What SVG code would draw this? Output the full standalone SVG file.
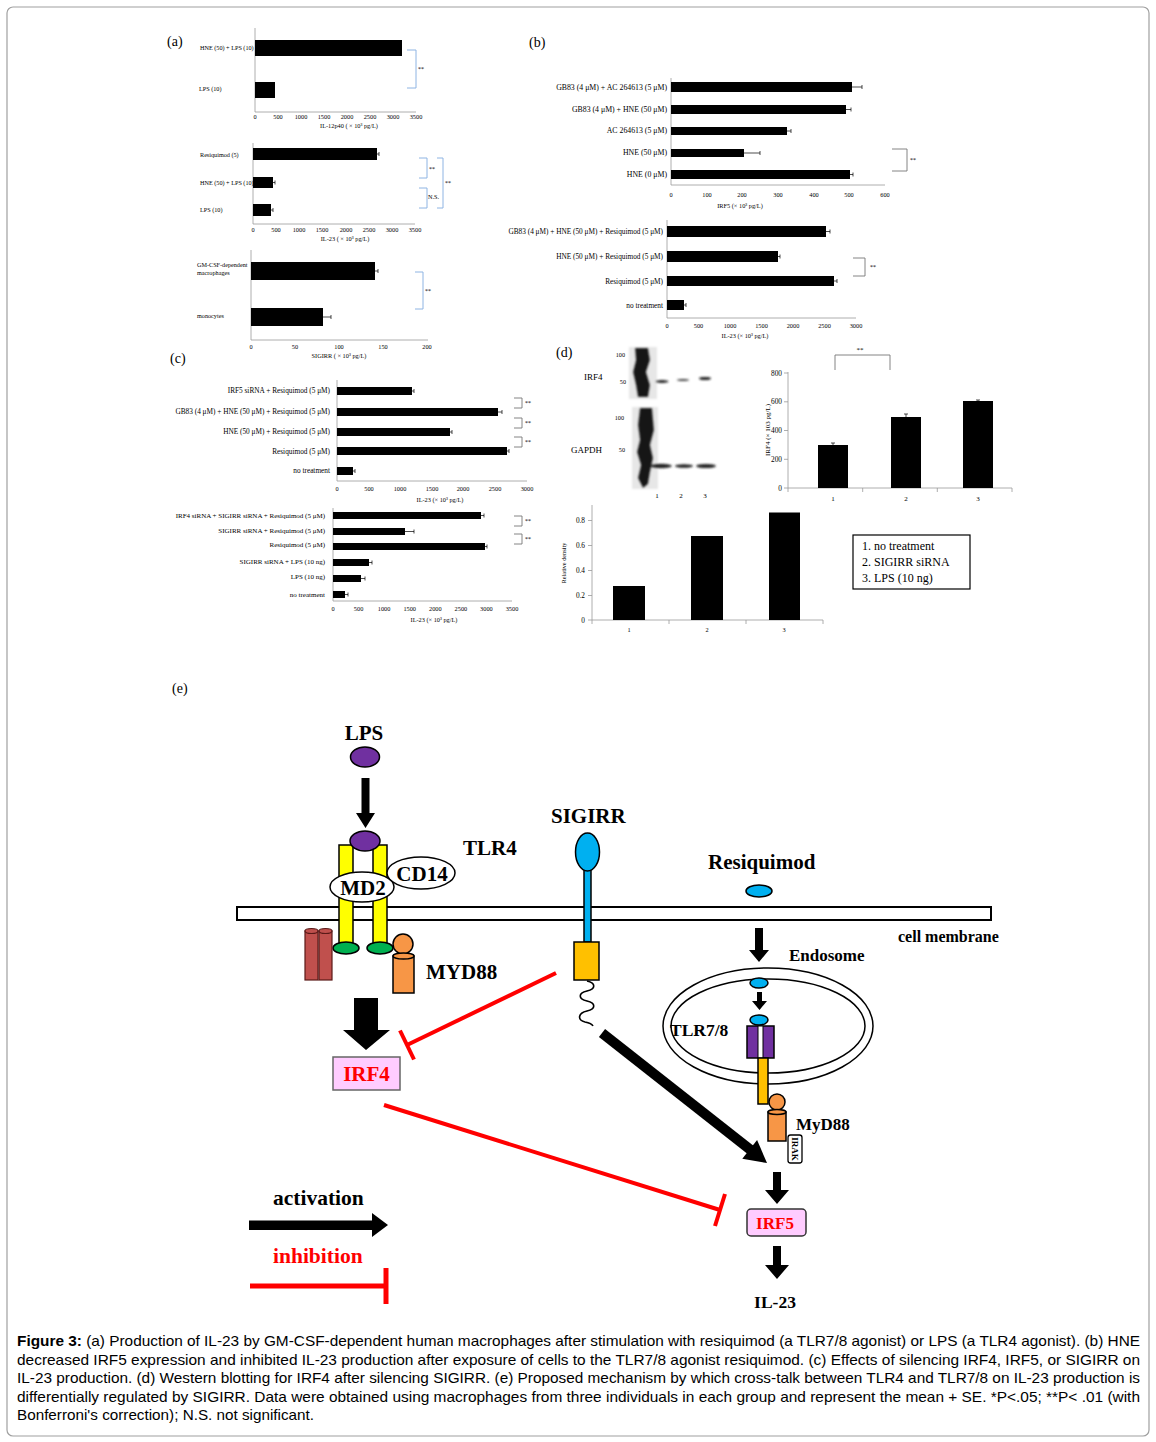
<svg xmlns="http://www.w3.org/2000/svg" width="1156" height="1442" viewBox="0 0 1156 1442">
<defs>
<style>
text { font-family: "Liberation Serif", "Times New Roman", serif; fill: #000; }
.b { font-weight: bold; }
.ax { stroke: #999; stroke-width: 0.8; fill: none; }
.bar { fill: #000; }
.err { stroke: #000; stroke-width: 0.7; fill: none; }
.br { stroke: #777; stroke-width: 0.9; fill: none; }
.brb { stroke: #8eb4e3; stroke-width: 1; fill: none; }
.l6 { font-size: 6.2px; }
.l65 { font-size: 7px; }
.l7 { font-size: 7.3px; }
.l75 { font-size: 7.8px; }
.tk { font-size: 6.3px; text-anchor: middle; }
.tk7 { font-size: 7px; text-anchor: middle; }
.end { text-anchor: end; }
.mid { text-anchor: middle; }
.pl { font-size: 14px; }
.big { font-size: 21px; font-weight: bold; }
.ol { stroke: #000; stroke-width: 1.5; }
.red { stroke: #ff0000; stroke-width: 4; fill: none; }
.cap { font-family: "Liberation Sans", Arial, sans-serif; font-size: 15px; }
</style>
<filter id="blur" x="-20%" y="-20%" width="140%" height="140%"><feGaussianBlur stdDeviation="1.1"/></filter>
</defs>
<rect x="0" y="0" width="1156" height="1442" fill="#fff"/>
<rect x="7" y="7" width="1142" height="1429" rx="6" fill="#fff" stroke="#a0a0a0" stroke-width="1.2"/>

<!-- Panel (a) -->
<g id="panel-a">
<text class="pl" x="167" y="46">(a)</text>
<g id="chart-a1">
<line class="ax" x1="255" y1="28" x2="255" y2="112"/>
<line class="ax" x1="255" y1="112" x2="416" y2="112"/>
<rect class="bar" x="255" y="40" width="147" height="16"/>
<rect class="bar" x="255" y="82" width="20" height="16"/>
<text class="l6" x="200" y="50">HNE (50) + LPS (10)</text>
<text class="l6" x="199" y="91">LPS (10)</text>
<text class="tk" x="255" y="119">0</text><text class="tk" x="278" y="119">500</text><text class="tk" x="301" y="119">1000</text><text class="tk" x="324" y="119">1500</text><text class="tk" x="347" y="119">2000</text><text class="tk" x="370" y="119">2500</text><text class="tk" x="393" y="119">3000</text><text class="tk" x="416" y="119">3500</text>
<text class="tk" x="349" y="128">IL-12p40 ( × 10³ pg/L)</text>
<path class="brb" d="M407,50 H416 V88 H407"/>
<text class="l6" x="418" y="71">**</text>
</g>
<g id="chart-a2">
<line class="ax" x1="253" y1="143" x2="253" y2="224"/>
<line class="ax" x1="253" y1="224" x2="415" y2="224"/>
<rect class="bar" x="253" y="148" width="124" height="12"/>
<path class="err" d="M377,154 H379 M379,152 V156"/>
<rect class="bar" x="253" y="177" width="20" height="11"/>
<path class="err" d="M273,182.5 H275 M275,180.5 V184.5"/>
<rect class="bar" x="253" y="204" width="18" height="12"/>
<path class="err" d="M271,210 H273 M273,208 V212"/>
<text class="l6" x="200" y="157">Resiquimod (5)</text>
<text class="l6" x="200" y="185">HNE (50) + LPS (10)</text>
<text class="l6" x="200" y="212">LPS (10)</text>
<text class="tk" x="253" y="232">0</text><text class="tk" x="276" y="232">500</text><text class="tk" x="299" y="232">1000</text><text class="tk" x="322" y="232">1500</text><text class="tk" x="346" y="232">2000</text><text class="tk" x="369" y="232">2500</text><text class="tk" x="392" y="232">3000</text><text class="tk" x="415" y="232">3500</text>
<text class="tk" x="345" y="241">IL-23 ( × 10³ pg/L)</text>
<path class="brb" d="M419,158 H427 V178 H419"/>
<text class="l6" x="429" y="171">**</text>
<path class="brb" d="M419,188 H427 V208 H419"/>
<text class="l6" x="428" y="199">N.S.</text>
<path class="brb" d="M437,158 H443 V208 H437"/>
<text class="l6" x="445" y="185">**</text>
</g>
<g id="chart-a3">
<line class="ax" x1="251" y1="250" x2="251" y2="340"/>
<line class="ax" x1="251" y1="340" x2="428" y2="340"/>
<rect class="bar" x="251" y="262" width="124" height="18"/>
<path class="err" d="M375,271 H378 M378,269 V273"/>
<rect class="bar" x="251" y="308" width="72" height="18"/>
<path class="err" d="M323,317 H331 M331,315 V319"/>
<text class="l6" x="197" y="267">GM-CSF-dependent</text>
<text class="l6" x="197" y="275">macrophages</text>
<text class="l6" x="197" y="318">monocytes</text>
<text class="tk" x="251" y="349">0</text><text class="tk" x="295" y="349">50</text><text class="tk" x="339" y="349">100</text><text class="tk" x="383" y="349">150</text><text class="tk" x="427" y="349">200</text>
<text class="tk" x="339" y="358">SIGIRR ( × 10³ pg/L)</text>
<path class="brb" d="M415,272 H423 V309 H415"/>
<text class="l6" x="425" y="293">**</text>
</g>
</g>

<!-- Panel (b) -->
<g id="panel-b">
<text class="pl" x="529" y="47">(b)</text>
<g id="chart-b1">
<line class="ax" x1="671" y1="78" x2="671" y2="185"/>
<line class="ax" x1="671" y1="185" x2="885" y2="185"/>
<rect class="bar" x="671" y="82" width="181" height="10"/>
<path class="err" d="M852,87 H862 M862,85 V89"/>
<rect class="bar" x="671" y="105" width="175" height="9"/>
<path class="err" d="M846,109.5 H851 M851,107.5 V111.5"/>
<rect class="bar" x="671" y="127" width="116" height="8"/>
<path class="err" d="M787,131 H791 M791,129 V133"/>
<rect class="bar" x="671" y="149" width="73" height="8"/>
<path class="err" d="M744,153 H760 M760,151 V155"/>
<rect class="bar" x="671" y="170" width="179" height="9"/>
<path class="err" d="M850,174.5 H853 M853,172.5 V176.5"/>
<text class="l75 end" x="667" y="90">GB83 (4 μM) +  AC 264613 (5 μM)</text>
<text class="l75 end" x="667" y="112">GB83 (4 μM) +  HNE (50 μM)</text>
<text class="l75 end" x="667" y="133">AC 264613 (5 μM)</text>
<text class="l75 end" x="667" y="155">HNE (50 μM)</text>
<text class="l75 end" x="667" y="177">HNE (0 μM)</text>
<text class="tk" x="671" y="197">0</text><text class="tk" x="707" y="197">100</text><text class="tk" x="742" y="197">200</text><text class="tk" x="778" y="197">300</text><text class="tk" x="814" y="197">400</text><text class="tk" x="849" y="197">500</text><text class="tk" x="885" y="197">600</text>
<text class="tk" x="740" y="208">IRF5 (× 10³ pg/L)</text>
<path class="br" d="M892,149 H907 V171 H892"/>
<text class="l6" x="910" y="162">**</text>
</g>
<g id="chart-b2">
<line class="ax" x1="667" y1="220" x2="667" y2="318"/>
<line class="ax" x1="667" y1="318" x2="856" y2="318"/>
<rect class="bar" x="667" y="226" width="159" height="11"/>
<path class="err" d="M826,231.5 H830 M830,229.5 V233.5"/>
<rect class="bar" x="667" y="251" width="111" height="11"/>
<path class="err" d="M778,256.5 H780 M780,254.5 V258.5"/>
<rect class="bar" x="667" y="276" width="167" height="10"/>
<path class="err" d="M834,281 H837 M837,279 V283"/>
<rect class="bar" x="667" y="300" width="17" height="10"/>
<path class="err" d="M684,305 H686 M686,303 V307"/>
<text class="l7 end" x="663" y="234">GB83  (4 μM)  + HNE (50 μM) + Resiquimod  (5 μM)</text>
<text class="l7 end" x="663" y="259">HNE (50 μM) + Resiquimod  (5 μM)</text>
<text class="l7 end" x="663" y="284">Resiquimod  (5 μM)</text>
<text class="l7 end" x="663" y="308">no treatment</text>
<text class="tk" x="667" y="328">0</text><text class="tk" x="698.5" y="328">500</text><text class="tk" x="730" y="328">1000</text><text class="tk" x="761.5" y="328">1500</text><text class="tk" x="793" y="328">2000</text><text class="tk" x="824.5" y="328">2500</text><text class="tk" x="856" y="328">3000</text>
<text class="tk" x="745" y="338">IL-23 (× 10³ pg/L)</text>
<path class="br" d="M853,258 H865 V276 H853"/>
<text class="l6" x="870" y="269">**</text>
</g>
</g>

<!-- Panel (c) -->
<g id="panel-c">
<text class="pl" x="170" y="363">(c)</text>
<g id="chart-c1">
<line class="ax" x1="337" y1="380" x2="337" y2="481"/>
<line class="ax" x1="337" y1="481" x2="527" y2="481"/>
<rect class="bar" x="337" y="387" width="75" height="8"/>
<path class="err" d="M412,391 H414 M414,389 V393"/>
<rect class="bar" x="337" y="408" width="161" height="8"/>
<path class="err" d="M498,412 H502 M502,410 V414"/>
<rect class="bar" x="337" y="428" width="113" height="8"/>
<path class="err" d="M450,432 H452 M452,430 V434"/>
<rect class="bar" x="337" y="447" width="170" height="8"/>
<path class="err" d="M507,451 H509 M509,449 V453"/>
<rect class="bar" x="337" y="467" width="16" height="8"/>
<path class="err" d="M353,471 H355 M355,469 V473"/>
<text class="l7 end" x="330" y="393">IRF5 siRNA + Resiquimod  (5 μM)</text>
<text class="l7 end" x="330" y="414">GB83  (4 μM)  + HNE (50 μM) + Resiquimod  (5 μM)</text>
<text class="l7 end" x="330" y="434">HNE (50 μM) + Resiquimod  (5 μM)</text>
<text class="l7 end" x="330" y="454">Resiquimod  (5 μM)</text>
<text class="l7 end" x="330" y="473">no treatment</text>
<text class="tk" x="337" y="491">0</text><text class="tk" x="369" y="491">500</text><text class="tk" x="400" y="491">1000</text><text class="tk" x="432" y="491">1500</text><text class="tk" x="463" y="491">2000</text><text class="tk" x="495" y="491">2500</text><text class="tk" x="527" y="491">3000</text>
<text class="tk" x="440" y="502">IL-23 (× 10³ pg/L)</text>
<path class="br" d="M514,398 H522 V408 H514"/>
<text class="l6" x="525" y="405">**</text>
<path class="br" d="M514,418 H522 V428 H514"/>
<text class="l6" x="525" y="425">**</text>
<path class="br" d="M514,437 H522 V447 H514"/>
<text class="l6" x="525" y="444">**</text>
</g>
<g id="chart-c2">
<line class="ax" x1="333" y1="508" x2="333" y2="601"/>
<line class="ax" x1="333" y1="601" x2="512" y2="601"/>
<rect class="bar" x="333" y="512" width="148" height="7"/>
<path class="err" d="M481,515.5 H484 M484,513.5 V517.5"/>
<rect class="bar" x="333" y="528" width="72" height="7"/>
<path class="err" d="M405,531.5 H414 M414,529.5 V533.5"/>
<rect class="bar" x="333" y="543" width="152" height="7"/>
<path class="err" d="M485,546.5 H487 M487,544.5 V548.5"/>
<rect class="bar" x="333" y="559" width="36" height="7"/>
<path class="err" d="M369,562.5 H372 M372,560.5 V564.5"/>
<rect class="bar" x="333" y="575" width="28" height="7"/>
<path class="err" d="M361,578.5 H365 M365,576.5 V580.5"/>
<rect class="bar" x="333" y="591" width="12" height="7"/>
<path class="err" d="M345,594.5 H348 M348,592.5 V596.5"/>
<text class="l65 end" x="325" y="518">IRF4 siRNA + SIGIRR siRNA + Resiquimod  (5 μM)</text>
<text class="l65 end" x="325" y="533">SIGIRR siRNA + Resiquimod  (5 μM)</text>
<text class="l65 end" x="325" y="547">Resiquimod  (5 μM)</text>
<text class="l65 end" x="325" y="564">SIGIRR siRNA + LPS (10 ng)</text>
<text class="l65 end" x="325" y="579">LPS (10 ng)</text>
<text class="l65 end" x="325" y="597">no treatment</text>
<text class="tk" x="333" y="611">0</text><text class="tk" x="358.6" y="611">500</text><text class="tk" x="384.1" y="611">1000</text><text class="tk" x="409.7" y="611">1500</text><text class="tk" x="435.3" y="611">2000</text><text class="tk" x="460.9" y="611">2500</text><text class="tk" x="486.4" y="611">3000</text><text class="tk" x="512" y="611">3500</text>
<text class="tk" x="434" y="622">IL-23 (× 10³ pg/L)</text>
<path class="br" d="M514,516 H522 V526 H514"/>
<text class="l6" x="525" y="523">**</text>
<path class="br" d="M514,534 H522 V544 H514"/>
<text class="l6" x="525" y="541">**</text>
</g>
</g>

<!-- Panel (d) -->
<g id="panel-d">
<text class="pl" x="556" y="357">(d)</text>
<g id="western-blot">
<g filter="url(#blur)">
<rect x="629" y="347" width="28" height="52" fill="#888" opacity="0.2"/>
<path d="M635,348 L648,348 L650,360 L646,372 L650,385 L648,397 L638,397 L636,385 L633,372 L636,360 Z" fill="#151515"/>
<ellipse cx="662" cy="381.5" rx="6.5" ry="1.5" fill="#222"/>
<ellipse cx="683" cy="380" rx="6" ry="1.1" fill="#444"/>
<ellipse cx="705" cy="378.5" rx="6" ry="1.6" fill="#222"/>
<rect x="632" y="407" width="26" height="82" fill="#888" opacity="0.2"/>
<path d="M640,408 L652,408 L654,430 L650,445 L653,458 L650,472 L648,484 L643,488 L638,478 L641,465 L637,452 L640,440 L638,425 Z" fill="#151515"/>
<ellipse cx="661" cy="466" rx="11" ry="2.2" fill="#222"/>
<ellipse cx="684" cy="466" rx="9" ry="1.8" fill="#222"/>
<ellipse cx="706" cy="466" rx="10" ry="2" fill="#222"/>
</g>
<text class="l6 end" x="625" y="357">100</text>
<text class="l6 end" x="626" y="384">50</text>
<text class="l6 end" x="624" y="420">100</text>
<text class="l6 end" x="625" y="452">50</text>
<text x="584" y="380" font-size="9">IRF4</text>
<text x="571" y="453" font-size="9">GAPDH</text>
<text class="tk7" x="657" y="498">1</text>
<text class="tk7" x="681" y="498">2</text>
<text class="tk7" x="705" y="498">3</text>
</g>
<g id="chart-d1">
<line class="ax" x1="788" y1="372" x2="788" y2="488"/>
<line class="ax" x1="788" y1="488" x2="1012" y2="488"/>
<path class="ax" d="M784,373 H788 M784,401.8 H788 M784,430.5 H788 M784,459.3 H788 M784,488 H788 M862.7,488 V492 M937.3,488 V492 M1012,488 V492 M788,488 V492"/>
<rect class="bar" x="818" y="445" width="30" height="43"/>
<path class="err" d="M833,445 V443 M831,443 H835"/>
<rect class="bar" x="891" y="417" width="30" height="71"/>
<path class="err" d="M906,417 V414 M904,414 H908"/>
<rect class="bar" x="963" y="401" width="30" height="87"/>
<path class="err" d="M978,401 V400 M976,400 H980"/>
<text class="l7 end" x="782" y="375.5">800</text>
<text class="l7 end" x="782" y="404.3">600</text>
<text class="l7 end" x="782" y="433">400</text>
<text class="l7 end" x="782" y="461.8">200</text>
<text class="l7 end" x="782" y="490.5">0</text>
<text class="tk7" x="833" y="501">1</text>
<text class="tk7" x="906" y="501">2</text>
<text class="tk7" x="978" y="501">3</text>
<text class="tk7" transform="translate(770,430) rotate(-90)">IRF4 (× 103 pg/L)</text>
<path class="br" d="M835,370 V355 H890 V370"/>
<text class="tk7" x="860" y="352">**</text>
</g>
<g id="chart-d2">
<line class="ax" x1="592" y1="505" x2="592" y2="620"/>
<line class="ax" x1="592" y1="620" x2="823" y2="620"/>
<path class="ax" d="M588,520.5 H592 M588,545.5 H592 M588,570.5 H592 M588,595.5 H592 M588,620 H592 M592,620 V624 M669,620 V624 M746,620 V624 M823,620 V624"/>
<rect class="bar" x="613" y="586" width="32" height="34"/>
<rect class="bar" x="691" y="536" width="32" height="84"/>
<rect class="bar" x="769" y="512.5" width="31" height="107.5"/>
<text class="l7 end" x="585" y="523">0.8</text>
<text class="l7 end" x="585" y="548">0.6</text>
<text class="l7 end" x="585" y="573">0.4</text>
<text class="l7 end" x="585" y="598">0.2</text>
<text class="l7 end" x="585" y="622.5">0</text>
<text class="tk" x="629" y="632">1</text>
<text class="tk" x="707" y="632">2</text>
<text class="tk" x="784" y="632">3</text>
<text class="tk" transform="translate(566,563) rotate(-90)">Relative  density</text>
</g>
<g id="legend-d">
<rect x="853" y="535" width="117" height="54" fill="#fff" stroke="#000" stroke-width="1.2"/>
<text x="862" y="550" font-size="12">1. no treatment</text>
<text x="862" y="566" font-size="12">2. SIGIRR  siRNA</text>
<text x="862" y="582" font-size="12">3. LPS (10 ng)</text>
</g>
</g>

<!-- Panel (e) -->
<g id="panel-e">
<text class="pl" x="172" y="693">(e)</text>
<g id="cell-membrane">
<rect x="237" y="907" width="754" height="13" fill="#fff" stroke="#000" stroke-width="2"/>
<text class="b" x="898" y="942" font-size="16px">cell membrane</text>
</g>
<g id="lps">
<text class="big mid" x="364" y="740">LPS</text>
<ellipse cx="365" cy="757" rx="14.5" ry="10" fill="#7030a0" class="ol"/>
</g>
<g id="tlr4">
<rect x="339" y="845" width="14" height="98" fill="#ffff00" class="ol"/>
<rect x="373" y="845" width="14" height="98" fill="#ffff00" class="ol"/>
<ellipse cx="365" cy="841" rx="15" ry="10" fill="#7030a0" class="ol"/>
<ellipse cx="346" cy="948" rx="13" ry="6" fill="#00b050" class="ol"/>
<ellipse cx="380" cy="948" rx="13" ry="6" fill="#00b050" class="ol"/>
<text class="big" x="463" y="855">TLR4</text>
</g>
<g id="cd14">
<ellipse cx="421" cy="873" rx="34" ry="16" fill="#fff" class="ol"/>
<text class="big mid" x="422" y="881">CD14</text>
</g>
<g id="md2">
<ellipse cx="362" cy="887" rx="32" ry="15" fill="#fff" class="ol"/>
<text class="big mid" x="363" y="895">MD2</text>
</g>
<g id="tlr4-adaptor">
<rect x="305" y="931" width="13" height="49" fill="#c0504d" stroke="#5a1a18" stroke-width="1.2"/>
<ellipse cx="311.5" cy="931" rx="6.5" ry="2.5" fill="#c0504d" stroke="#5a1a18" stroke-width="1.2"/>
<rect x="319" y="931" width="13" height="49" fill="#c0504d" stroke="#5a1a18" stroke-width="1.2"/>
<ellipse cx="325.5" cy="931" rx="6.5" ry="2.5" fill="#c0504d" stroke="#5a1a18" stroke-width="1.2"/>
</g>
<g id="myd88-tlr4">
<circle cx="403" cy="944" r="10" fill="#f79646" class="ol"/>
<rect x="393" y="956" width="21" height="37" fill="#f79646" class="ol"/>
<ellipse cx="403.5" cy="956" rx="10.5" ry="3" fill="#f79646" class="ol"/>
<text class="big" x="426" y="979">MYD88</text>
</g>
<g id="sigirr">
<text class="big" x="551" y="823">SIGIRR</text>
<rect x="584" y="868" width="7" height="74" fill="#00b0f0" class="ol"/>
<ellipse cx="587.5" cy="852" rx="12" ry="19" fill="#00b0f0" class="ol"/>
<rect x="574" y="942" width="25" height="38" fill="#ffc000" class="ol"/>
<path d="M587,981 c9,2 9,8 0,10 c-9,2 -9,8 0,10 c9,2 9,8 0,10 c-9,2 -10,9 -2,11 c5,1 7,2 8,4" fill="none" stroke="#000" stroke-width="1.6"/>
</g>
<g id="resiquimod">
<text class="big" x="708" y="869">Resiquimod</text>
<ellipse cx="759" cy="891" rx="13" ry="6" fill="#00b0f0" class="ol"/>
</g>
<g id="endosome">
<ellipse cx="768" cy="1026" rx="105" ry="58" fill="none" stroke="#000" stroke-width="1.5"/>
<ellipse cx="768" cy="1026" rx="97" ry="47" fill="none" stroke="#000" stroke-width="1.5"/>
<text class="b" x="789" y="961" font-size="17px">Endosome</text>
<ellipse cx="759" cy="983" rx="9" ry="5" fill="#00b0f0" class="ol"/>
</g>
<g id="tlr78">
<ellipse cx="759" cy="1020" rx="9" ry="5" fill="#00b0f0" class="ol"/>
<rect x="747" y="1026" width="27" height="32" fill="#7030a0" class="ol"/>
<rect x="758" y="1026" width="5" height="32" fill="#fff" stroke="#000" stroke-width="1"/>
<rect x="758" y="1058" width="10" height="46" fill="#ffc000" class="ol"/>
<text class="b" x="670" y="1036" font-size="17.5px">TLR7/8</text>
</g>
<g id="myd88-tlr78">
<circle cx="777" cy="1102" r="8" fill="#f79646" class="ol"/>
<rect x="768" y="1112" width="18" height="29" fill="#f79646" class="ol"/>
<ellipse cx="777" cy="1112" rx="9" ry="2.5" fill="#f79646" class="ol"/>
<text class="b" x="796" y="1130" font-size="17px">MyD88</text>
</g>
<g id="irak">
<rect x="788" y="1135" width="14" height="28" rx="2.5" fill="#fff" stroke="#000" stroke-width="1.3"/>
<text class="b mid" font-size="9px" transform="translate(792,1149) rotate(90)">IRAK</text>
</g>
<g id="irf4">
<rect x="333" y="1057" width="67" height="33" fill="#ffccff" stroke="#666" stroke-width="1.5"/>
<text class="big mid" x="366.5" y="1081" style="fill:#ff0000">IRF4</text>
</g>
<g id="irf5">
<rect x="747" y="1209" width="59" height="27" rx="4" fill="#ffccff" stroke="#333" stroke-width="1.5"/>
<text class="b mid" x="775" y="1229" font-size="17px" style="fill:#ff0000">IRF5</text>
</g>
<g id="il23">
<text class="b mid" x="775" y="1308" font-size="17.5px">IL-23</text>
</g>
<g id="connectors">
<polygon points="361.5,778 369.5,778 369.5,813 375,813 365.5,828 356,813 361.5,813" fill="#000"/>
<polygon points="755,928 763,928 763,950 769,950 759,962 749,950 755,950" fill="#000"/>
<polygon points="757,992 762,992 762,1001 767,1001 759.5,1010 752,1001 757,1001" fill="#000"/>
<polygon points="354,998 378,998 378,1030 390,1030 366,1050 343,1030 354,1030" fill="#000"/>
<line x1="602" y1="1033" x2="752" y2="1151" stroke="#000" stroke-width="10"/>
<polygon points="767,1163 742.3,1158.8 757.1,1140" fill="#000"/>
<polygon points="773,1172 781,1172 781,1190 789,1190 777,1204 765,1190 773,1190" fill="#000"/>
<polygon points="773,1246 781,1246 781,1265 789,1265 777,1279 765,1265 773,1265" fill="#000"/>
<line class="red" x1="556" y1="973" x2="407" y2="1045"/>
<line class="red" x1="400" y1="1030.5" x2="414" y2="1059.5"/>
<line class="red" x1="384" y1="1105" x2="720" y2="1210"/>
<line class="red" x1="725" y1="1194" x2="715" y2="1226"/>
</g>
<g id="legend-e">
<text class="b" x="273" y="1205" font-size="21.5px">activation</text>
<polygon points="249,1220.5 372,1220.5 372,1213 388,1225 372,1237 372,1230 249,1230" fill="#000"/>
<text class="b" x="273" y="1263" font-size="21.5px" style="fill:#ff0000">inhibition</text>
<line x1="250" y1="1286" x2="386" y2="1286" stroke="#ff0000" stroke-width="5"/>
<line x1="386" y1="1268" x2="386" y2="1304" stroke="#ff0000" stroke-width="5"/>
</g>
</g>

<!-- Caption -->
<g id="caption">
<text class="cap" x="17" y="1346" textLength="1123" lengthAdjust="spacingAndGlyphs"><tspan font-weight="bold">Figure 3:</tspan> (a) Production of IL-23 by GM-CSF-dependent human macrophages after stimulation with resiquimod (a TLR7/8 agonist) or LPS (a TLR4 agonist). (b) HNE</text>
<text class="cap" x="17" y="1365" textLength="1123" lengthAdjust="spacingAndGlyphs">decreased IRF5 expression and inhibited IL-23 production after exposure of cells to the TLR7/8 agonist resiquimod. (c) Effects of silencing IRF4, IRF5, or SIGIRR on</text>
<text class="cap" x="17" y="1383" textLength="1123" lengthAdjust="spacingAndGlyphs">IL-23 production. (d) Western blotting for IRF4 after silencing SIGIRR. (e) Proposed mechanism by which cross-talk between TLR4 and TLR7/8 on IL-23 production is</text>
<text class="cap" x="17" y="1402" textLength="1123" lengthAdjust="spacingAndGlyphs">differentially regulated by SIGIRR. Data were obtained using macrophages from three individuals in each group and represent the mean + SE. *P&lt;.05; **P&lt; .01 (with</text>
<text class="cap" x="17" y="1420" textLength="297" lengthAdjust="spacingAndGlyphs">Bonferroni's correction); N.S. not significant.</text>
</g>
</svg>
